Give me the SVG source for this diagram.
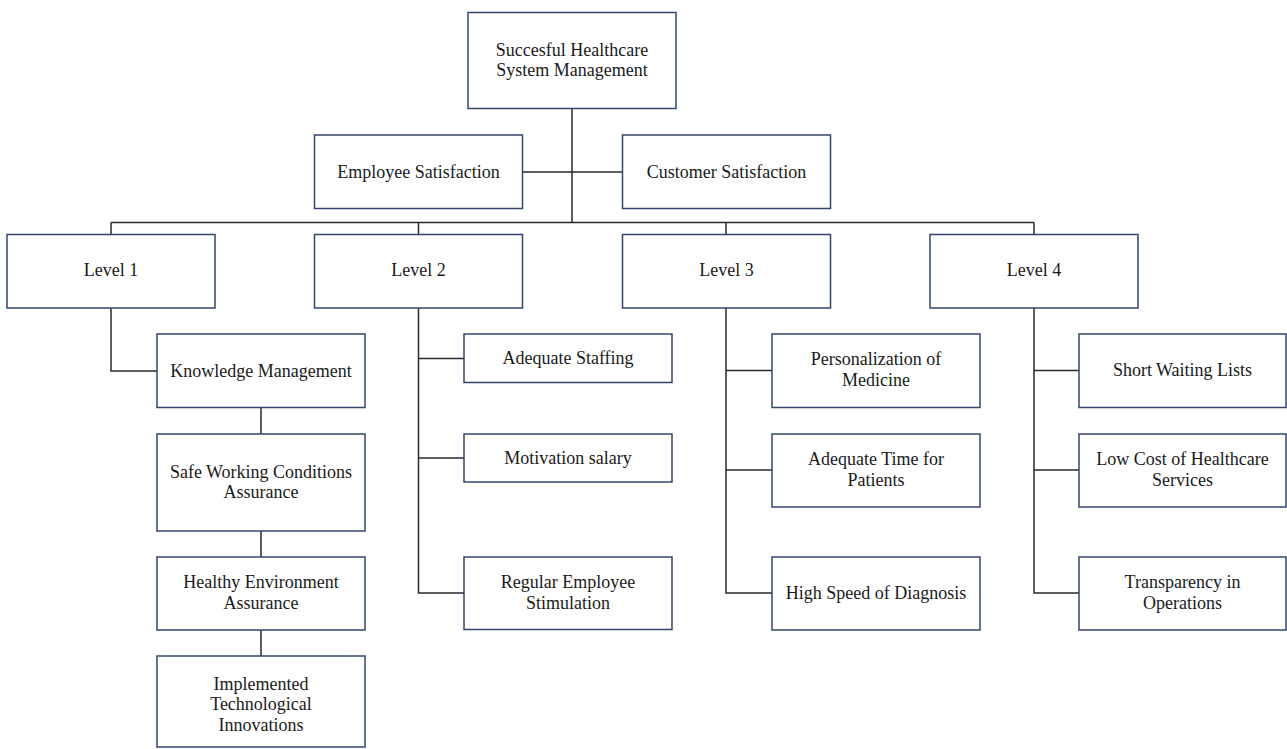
<svg xmlns="http://www.w3.org/2000/svg" width="1287" height="749" viewBox="0 0 1287 749">
<style>
.box{fill:#fff;stroke:#34456e;stroke-width:1.5}
.t{font-family:"Liberation Serif","Times New Roman",serif;font-size:18px;fill:#1a1a1a;text-anchor:middle}
.c{fill:none;stroke:#2a2a2a;stroke-width:1.5}
</style>
<rect width="1287" height="749" fill="#fff"/>
<g id="connectors">
<path class="c" d="M572 108.5V222.5M522.5 172H622.5M111 222.5H1034M111 222.5V234.5M418.5 222.5V234.5M726 222.5V234.5M1034 222.5V234.5"/>
<path class="c" d="M111 308V371H157"/>
<path class="c" d="M261 407V434M261 531V557M261 630V656"/>
<path class="c" d="M418.5 308V593H464M418.5 358.5H464M418.5 458H464"/>
<path class="c" d="M726 308V593H772M726 370.5H772M726 470H772"/>
<path class="c" d="M1034 308V593H1079M1034 370.5H1079M1034 470H1079"/>
</g>
<g id="root"><rect class="box" x="468" y="12.5" width="208" height="96"/><text class="t" x="572" y="56">Succesful Healthcare</text><text class="t" x="572" y="76">System Management</text></g>
<g id="employee"><rect class="box" x="314.5" y="135" width="208" height="73.5"/><text class="t" x="418.5" y="177.5">Employee Satisfaction</text></g>
<g id="customer"><rect class="box" x="622.5" y="135" width="208" height="73.5"/><text class="t" x="726.5" y="177.5">Customer Satisfaction</text></g>
<g id="level1"><rect class="box" x="7" y="234.5" width="208" height="73.5"/><text class="t" x="111" y="275.5">Level 1</text></g>
<g id="level2"><rect class="box" x="314.5" y="234.5" width="208" height="73.5"/><text class="t" x="418.5" y="275.5">Level 2</text></g>
<g id="level3"><rect class="box" x="622.5" y="234.5" width="208" height="73.5"/><text class="t" x="726.5" y="275.5">Level 3</text></g>
<g id="level4"><rect class="box" x="930" y="234.5" width="208" height="73.5"/><text class="t" x="1034" y="275.5">Level 4</text></g>
<g id="knowledge"><rect class="box" x="157" y="334" width="208" height="73.5"/><text class="t" x="261" y="376.5">Knowledge Management</text></g>
<g id="safe"><rect class="box" x="157" y="434" width="208" height="97"/><text class="t" x="261" y="477.5">Safe Working Conditions</text><text class="t" x="261" y="498">Assurance</text></g>
<g id="healthy"><rect class="box" x="157" y="557" width="208" height="73"/><text class="t" x="261" y="588">Healthy Environment</text><text class="t" x="261" y="609">Assurance</text></g>
<g id="implemented"><rect class="box" x="157" y="656" width="208" height="91"/><text class="t" x="261" y="690">Implemented</text><text class="t" x="261" y="710">Technological</text><text class="t" x="261" y="731">Innovations</text></g>
<g id="staffing"><rect class="box" x="464" y="334" width="208" height="48.5"/><text class="t" x="568" y="364">Adequate Staffing</text></g>
<g id="salary"><rect class="box" x="464" y="434" width="208" height="48"/><text class="t" x="568" y="463.5">Motivation salary</text></g>
<g id="stimulation"><rect class="box" x="464" y="557" width="208" height="72.5"/><text class="t" x="568" y="588">Regular Employee</text><text class="t" x="568" y="609">Stimulation</text></g>
<g id="personalization"><rect class="box" x="772" y="334" width="208" height="73.5"/><text class="t" x="876" y="365">Personalization of</text><text class="t" x="876" y="385.5">Medicine</text></g>
<g id="time"><rect class="box" x="772" y="434" width="208" height="73"/><text class="t" x="876" y="465">Adequate Time for</text><text class="t" x="876" y="485.5">Patients</text></g>
<g id="diagnosis"><rect class="box" x="772" y="557" width="208" height="73"/><text class="t" x="876" y="599">High Speed of Diagnosis</text></g>
<g id="waiting"><rect class="box" x="1079" y="334" width="207" height="73.5"/><text class="t" x="1182.5" y="376">Short Waiting Lists</text></g>
<g id="cost"><rect class="box" x="1079" y="434" width="207" height="73"/><text class="t" x="1182.5" y="465">Low Cost of Healthcare</text><text class="t" x="1182.5" y="485.5">Services</text></g>
<g id="transparency"><rect class="box" x="1079" y="557" width="207" height="73"/><text class="t" x="1182.5" y="588">Transparency in</text><text class="t" x="1182.5" y="609">Operations</text></g>
</svg>
